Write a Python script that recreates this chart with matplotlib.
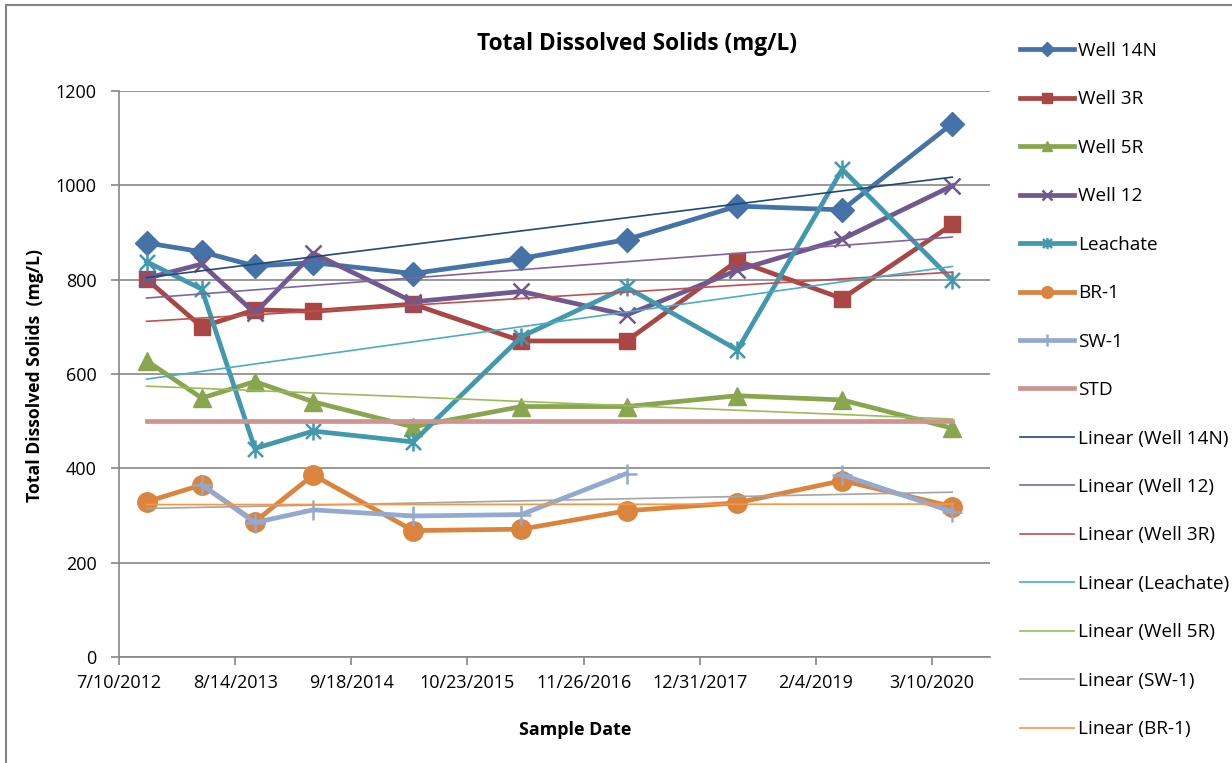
import datetime as dt

import numpy as np
import matplotlib
matplotlib.use('Agg')
import matplotlib.pyplot as plt
import matplotlib.dates as mdates
from matplotlib.path import Path
from matplotlib.patches import Rectangle
from matplotlib.ticker import FuncFormatter

plt.rcParams['font.family'] = ['Open Sans', 'DejaVu Sans']

dates = ['2012-10-13', '2013-04-21', '2013-10-21', '2014-05-10', '2015-04-19',
         '2016-04-26', '2017-04-23', '2018-05-10', '2019-05-06', '2020-05-19']
well_14n = [878, 859, 829, 836, 813, 845, 885, 956, 948, 1131]
well_3r = [801, 700, 736, 733, 748, 670, 670, 840, 760, 917]
well_5r = [628, 549, 584, 541, 488, 531, 531, 554, 545, 485]
well_12 = [803, 833, 729, 856, 753, 775, 725, 820, 886, 999]
leachate = [838, 780, 442, 479, 456, 679, 784, 651, 1034, 799]
br_1 = [329, 365, 287, 386, 268, 271, 310, 327, 374, 319]
sw_1 = [np.nan, 365, 285, 312, 299, 302, 389, np.nan, 386, 308]
std = [500, 500, 500, 500, 500, 500, 500, 500, 500, 500]

x = mdates.date2num([dt.datetime.strptime(d, '%Y-%m-%d') for d in dates])

# Excel style asterisk: an x plus a vertical bar
star = Path([(-1, -1), (1, 1), (-1, 1), (1, -1), (0, -1.2), (0, 1.2)],
            [Path.MOVETO, Path.LINETO] * 3)

series = [
    ('Well 14N', well_14n, '#4572A7', dict(marker='D', ms=12)),
    ('Well 3R', well_3r, '#AA4643', dict(marker='s', ms=12)),
    ('Well 5R', well_5r, '#89A54E', dict(marker='^', ms=13)),
    ('Well 12', well_12, '#71588F', dict(marker='x', ms=12, mew=1.8)),
    ('Leachate', leachate, '#4198AF', dict(marker=star, ms=13, mew=1.8)),
    ('BR-1', br_1, '#DB843D', dict(marker='o', ms=14)),
    ('SW-1', sw_1, '#93A9CF', dict(marker='+', ms=14, mew=1.8)),
    ('STD', std, '#D19392', dict(marker=None)),
]
trends = [
    ('Well 14N', well_14n, '#1F497D'),
    ('Well 12', well_12, '#8064A2'),
    ('Well 3R', well_3r, '#C0504D'),
    ('Leachate', leachate, '#4BACC6'),
    ('Well 5R', well_5r, '#9BBB59'),
    ('SW-1', sw_1, '#A5A5A5'),
    ('BR-1', br_1, '#F79646'),
]

fig = plt.figure(figsize=(12.32, 7.63), dpi=100)
ax = fig.add_axes([119 / 1232, 1 - 657 / 763, (990 - 119) / 1232, (657 - 91) / 763])

handles = []
for name, vals, color, mk in series:
    h, = ax.plot(x, vals, color=color, lw=3.4, label=name, **mk)
    handles.append(h)

ends = np.array([x[0], x[-1]])
for name, vals, color in trends:
    v = np.array(vals, dtype=float)
    ok = ~np.isnan(v)
    k, b = np.polyfit(x[ok], v[ok], 1)
    h, = ax.plot(ends, k * ends + b, color=color, lw=1.2, label=f'Linear ({name})')
    handles.append(h)

start = mdates.date2num(dt.datetime(2012, 7, 10))
ax.set_xlim(start, start + 3000)
ax.set_xticks([start + 400 * i for i in range(8)])
ax.xaxis.set_major_formatter(FuncFormatter(
    lambda v, p: f'{mdates.num2date(v).month}/{mdates.num2date(v).day}/{mdates.num2date(v).year}'))
ax.set_ylim(0, 1200)
ax.set_yticks(range(0, 1201, 200))
ax.grid(axis='y', color='#868686', lw=1.2)
ax.set_axisbelow(True)
for s in ['top', 'right']:
    ax.spines[s].set_visible(False)
for s in ['left', 'bottom']:
    ax.spines[s].set_color('#868686')
    ax.spines[s].set_linewidth(1.2)
ax.tick_params(axis='both', colors='#868686', labelcolor='black', labelsize=13,
               length=6, width=1.2)
ax.tick_params(axis='x', pad=6)
ax.tick_params(axis='y', pad=10)

fig.text(637 / 1232, 1 - 44 / 763, 'Total Dissolved Solids (mg/L)', ha='center', va='center',
         fontsize=16.3, fontweight='bold')
fig.text(575 / 1232, 1 - 730 / 763, 'Sample Date', ha='center', va='center',
         fontsize=12.9, fontweight='bold')
fig.text(35 / 1232, 1 - 375 / 763, 'Total Dissolved Solids  (mg/L)', ha='center', va='center',
         rotation=90, fontsize=12.7, fontweight='bold')

fig.legend(handles=handles, loc='upper left', bbox_to_anchor=(1020 / 1232, 1 - 42 / 763),
           frameon=False, fontsize=13.7, handlelength=2.85, handletextpad=0.2,
           labelspacing=1.6, borderaxespad=0, borderpad=0, markerscale=0.6)

fig.patches.append(Rectangle((6 / 1232, -0.1), 1.2, 1.1 - 5 / 763, transform=fig.transFigure,
                             fill=False, edgecolor='#868686', lw=1.5))

fig.savefig('out.png', dpi=100)
